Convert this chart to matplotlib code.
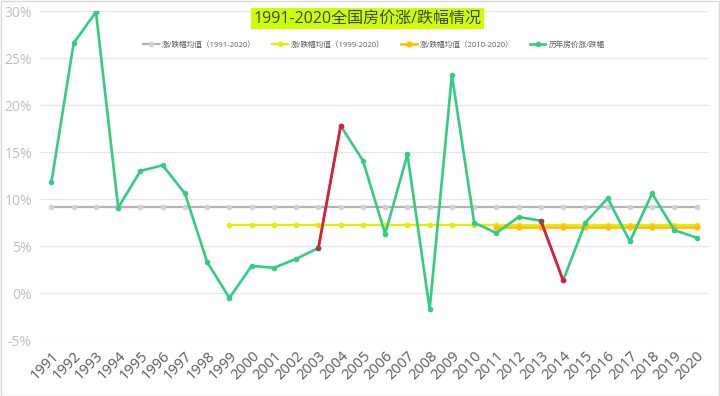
import numpy as np
import matplotlib.pyplot as plt

plt.rcParams['font.family'] = ['Open Sans', 'Noto Sans CJK SC', 'DejaVu Sans']

years = list(range(1991, 2021))
change = [11.8, 26.6, 29.9, 9.1, 13.0, 13.6, 10.6, 3.3, -0.5, 2.9,
          2.7, 3.65, 4.8, 17.8, 14.1, 6.3, 14.75, -1.7, 23.2, 7.5,
          6.4, 8.1, 7.7, 1.35, 7.5, 10.1, 5.5, 10.6, 6.7, 5.9]
mean_all = 9.2      # 1991-2020
mean_99 = 7.2       # 1999-2020
mean_10 = 7.0       # 2010-2020
red_years = [2003, 2013]   # segments drawn in red

fig = plt.figure(figsize=(7.2, 3.96), dpi=100)
ax = fig.add_axes([0.056, 0.141, 0.927, 0.831])

x = np.arange(len(years))
i99 = years.index(1999)
i11 = years.index(2011)

ax.plot(x, [mean_all] * len(x), color='#b4b4b4', lw=1.6, marker='o', ms=3,
        mfc='#d0d0d0', mec='#d0d0d0', label='涨/跌幅均值（1991-2020）', zorder=2)
ax.plot(x[i99:], [mean_99] * len(x[i99:]), color='#e2f000', lw=1.6, marker='o', ms=3,
        label='涨/跌幅均值（1999-2020）', zorder=3)
ax.plot(x[i11:], [mean_10] * len(x[i11:]), color='#ffc000', lw=1.9, marker='o', ms=3.5,
        label='涨/跌幅均值（2010-2020）', zorder=3)
ax.plot(x, change, color='#33cc80', lw=1.9, marker='o', ms=3,
        label='历年房价涨/跌幅', zorder=4)
for y0 in red_years:
    i = years.index(y0)
    ax.plot(x[i:i + 2], change[i:i + 2], color='#e8173c', lw=1.9, zorder=5)
    ax.plot(x[i + 1], change[i + 1], 'o', color='#e8173c', ms=3, zorder=6)
    ax.plot(x[i], change[i], 'o', color='#8a4a40', ms=3, zorder=6)

ax.set_xlim(-0.5, len(x) - 0.5)
ax.set_ylim(-5, 30)
ax.set_yticks(np.arange(-5, 31, 5))
ax.set_yticklabels([f'{v}%' for v in range(-5, 31, 5)])
ax.set_xticks(x)
ax.set_xticklabels([str(y) for y in years], rotation=45, ha='right', va='top',
                   rotation_mode='anchor')
ax.tick_params(axis='y', colors='#bfbfbf', labelsize=10, length=0, pad=6)
ax.tick_params(axis='x', colors='#595959', labelsize=10.5, length=0, pad=6)
ax.grid(axis='y', color='#e6e6e6', lw=0.9)
ax.set_axisbelow(True)
for s in ax.spines.values():
    s.set_visible(False)

fig.text(0.51, 0.953, '1991-2020全国房价涨/跌幅情况', ha='center', va='center',
         fontsize=11.5, color='#404040',
         bbox=dict(boxstyle='square,pad=0.15', fc='#ccff00', ec='none'))

leg = ax.legend(loc='upper center', bbox_to_anchor=(0.5, 0.93), ncol=4, frameon=False,
                fontsize=5.5, handlelength=2.0, columnspacing=2.2, handletextpad=0.4)
for t in leg.get_texts():
    t.set_color('#595959')

fig.patches.append(plt.Rectangle((0.001, 0.001), 0.997, 0.997, transform=fig.transFigure,
                                 fill=False, ec='#d9d9d9', lw=1))

fig.savefig('out.png')
